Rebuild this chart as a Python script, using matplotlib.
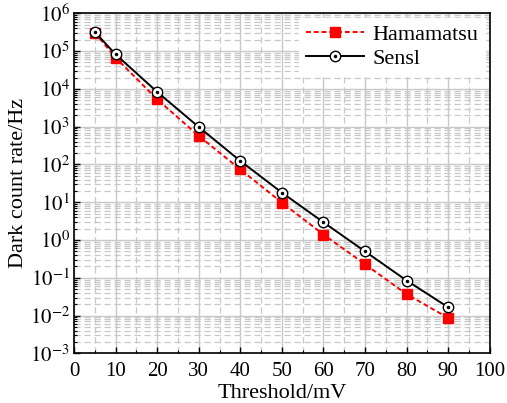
import numpy as np
import matplotlib
matplotlib.use('Agg')
import matplotlib.pyplot as plt
import matplotlib.ticker as ticker

# data
threshold = [5, 10, 20, 30, 40, 50, 60, 70, 80, 90]
hamamatsu = [3.1e5, 6.7e4, 5.3e3, 570, 74, 9.8, 1.4, 0.23, 0.037, 0.0087]
sensl = [3.2e5, 8.2e4, 8.3e3, 980, 124, 18, 2.95, 0.5, 0.085, 0.0166]

x_ticks = [0, 10, 20, 30, 40, 50, 60, 70, 80, 90, 100]
y_exponents = [-3, -2, -1, 0, 1, 2, 3, 4, 5, 6]

plt.rcParams['font.family'] = ['Liberation Serif', 'DejaVu Serif']
plt.rcParams['mathtext.fontset'] = 'stix'

fig = plt.figure(figsize=(5.07, 4.03), dpi=100)
ax = fig.add_axes([0.146, 0.123, 0.820, 0.844])

ax.set_yscale('log')
ax.set_xlim(0, 100)
ax.set_ylim(1e-3, 1e6)

# grid
ax.grid(True, which='major', color='#c8c8c8', linestyle='-', linewidth=1.0, zorder=0)
ax.grid(True, which='minor', color='#c8c8c8', linestyle=(0, (5, 3)), linewidth=0.9, zorder=0)
ax.set_axisbelow(True)

# lines
l_ham, = ax.plot(threshold, hamamatsu, color='red', linestyle=(0, (2.5, 1.5)), linewidth=1.4,
                 marker='s', markersize=6.5, markerfacecolor='red', markeredgecolor='red', zorder=3)
l_sen, = ax.plot(threshold, sensl, color='black', linestyle='-', linewidth=1.4,
                 marker='o', markersize=7.5, markerfacecolor='white', markeredgecolor='black',
                 markeredgewidth=1.0, zorder=4)
l_dot, = ax.plot(threshold, sensl, linestyle='none', marker='o', markersize=1.5,
                 color='black', zorder=5)

# ticks
ax.set_xticks(x_ticks)
ax.xaxis.set_minor_locator(ticker.MultipleLocator(5))
ax.set_yticks([10.0 ** e for e in y_exponents])
ax.set_yticklabels([r'$10^{%d}$' % e for e in y_exponents])
ax.yaxis.set_minor_locator(ticker.LogLocator(base=10, subs=np.arange(2, 10), numticks=20))
ax.yaxis.set_minor_formatter(ticker.NullFormatter())
ax.tick_params(which='both', direction='in', top=False, right=False, labelsize=15)
ax.tick_params(which='major', length=4, width=1, pad=3)
ax.tick_params(axis='x', which='major', pad=6)
ax.tick_params(which='minor', length=2.5, width=0.8)
for s in ax.spines.values():
    s.set_linewidth(1.2)

ax.set_xlabel('Threshold/mV', fontsize=16, labelpad=2)
ax.set_ylabel('Dark count rate/Hz', fontsize=16, labelpad=1)

leg = ax.legend([l_ham, (l_sen, l_dot)], ['Hamamatsu', 'Sensl'], loc='upper right',
                fontsize=16, frameon=True, fancybox=False, framealpha=1.0,
                edgecolor='white', handlelength=2.6, handletextpad=0.4,
                borderaxespad=0.2, labelspacing=0.15, borderpad=0.3)

plt.savefig('out.png', dpi=100)
